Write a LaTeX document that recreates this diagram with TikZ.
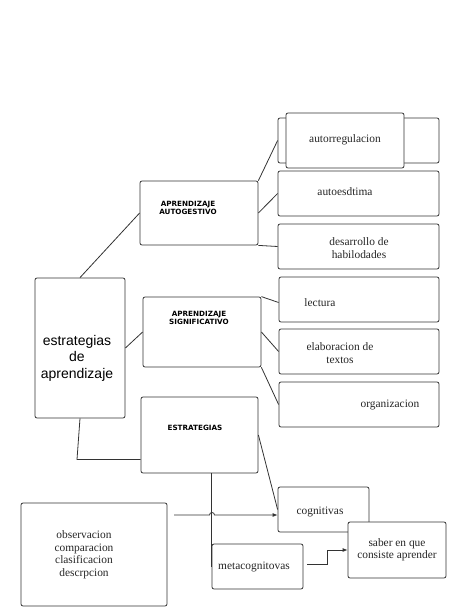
\documentclass[tikz,border=0pt]{standalone}
\usepackage{fontspec}
\setmainfont{Liberation Serif}
\newfontfamily\labsans{Liberation Sans}
\newfontfamily\comicf{DejaVu Sans}
\usetikzlibrary{arrows.meta,calc}
\definecolor{edge}{HTML}{333333}
\tikzset{
  x=1pt,y=-1pt,
  box/.style={draw=edge,line width=0.8pt,rounded corners=2pt,fill=white,inner sep=0pt},
  conn/.style={draw=edge,line width=0.8pt},
  arr/.style={conn,-{Latex[length=5pt,width=4pt]}},
  serif/.style={font=\fontsize{11.4}{12.5}\selectfont,align=center,inner sep=0pt,text=black!85},
  comic/.style={font=\comicf\bfseries\fontsize{7.2}{8}\selectfont,align=center,inner sep=0pt},
}
\begin{document}
\begin{tikzpicture}
\useasboundingbox (0,0) rectangle (474,613);
% boxes
\node[box,minimum width=118,minimum height=64] (auto) at (199,213) {};
\node[box,minimum width=161,minimum height=45] (autorrB) at (358.5,140.5) {};
\node[box,minimum width=118,minimum height=55] (autorr) at (345,140.5) {};
\node[box,minimum width=161,minimum height=45] (autoes) at (358.5,193.5) {};
\node[box,minimum width=161,minimum height=45] (desar) at (358.5,246.5) {};
\node[box,minimum width=90,minimum height=140] (estr) at (80,348) {};
\node[box,minimum width=118,minimum height=70] (sig) at (202,332) {};
\node[box,minimum width=160,minimum height=45] (lect) at (359,299.5) {};
\node[box,minimum width=160,minimum height=45] (elab) at (359,351.5) {};
\node[box,minimum width=160,minimum height=45] (org) at (359,404.5) {};
\node[box,minimum width=117,minimum height=76] (estrat) at (199.5,435) {};
\node[box,minimum width=91,minimum height=45] (cog) at (323.5,509.5) {};
\node[box,minimum width=98,minimum height=56] (saber) at (397,550) {};
\node[box,minimum width=91,minimum height=45] (meta) at (257.5,566.5) {};
\node[box,minimum width=146,minimum height=103] (obs) at (94,554.5) {};
% texts
\node[serif] (tautorr) at (345,140) {autorregulacion};
\node[serif] (tautoes) at (345,192) {autoesdtima};
\node[serif] (tdesar) at (359,248) {desarrollo de\\habilodades};
\node[serif] (tlect) at (320,303) {lectura};
\node[serif] (telab) at (340,353) {elaboracion de\\textos};
\node[serif] (torg) at (390,405) {organizacion};
\node[serif] (tcog) at (320,512) {cognitivas};
\node[serif] (tsaber) at (397,550) {saber en que\\consiste aprender};
\node[serif] (tmeta) at (254,567) {metacognitovas};
\node[serif] (tobs) at (84,555) {observacion\\comparacion\\clasificacion\\descrpcion};
\node[font=\labsans\fontsize{14}{16.5}\selectfont,align=center,inner sep=0pt] (testr) at (77,358) {estrategias\\de\\aprendizaje};
\node[comic] (tauto) at (188,208) {APRENDIZAJE\\AUTOGESTIVO};
\node[comic] (tsig) at (199,318) {APRENDIZAJE\\SIGNIFICATIVO};
\node[comic] (testrat) at (195,428) {ESTRATEGIAS};
% connectors
\draw[conn] (auto.north east) -- (autorrB.west);
\draw[conn] (auto.east) -- (autoes.west);
\draw[conn] (auto.south east) -- (desar.west);
\draw[conn] (estr.north) -- (auto.west);
\draw[conn] (estr.east) -- (sig.west);
\draw[conn] (sig.north east) -- ($(lect.west)+(0,3)$);
\draw[conn] (sig.east) -- (elab.west);
\draw[conn] (sig.south east) -- (org.west);
\draw[conn] (estr.south) -- ++(-3,41) coordinate (c1) -- (c1 -| estrat.west);
\draw[conn] (estrat.east) -- (cog.west);
\draw[conn] (estrat.south -| meta.west) -- (meta.west);
\coordinate (a0) at (174,515);
\draw[arr] (a0) -- (209.5,515) arc (180:360:2.5) -- (a0 -| cog.west);
\coordinate (m0) at (307,564);
\draw[arr] (m0) -- (327,564) -- (327,550) -- (saber.west);
\end{tikzpicture}
\end{document}
